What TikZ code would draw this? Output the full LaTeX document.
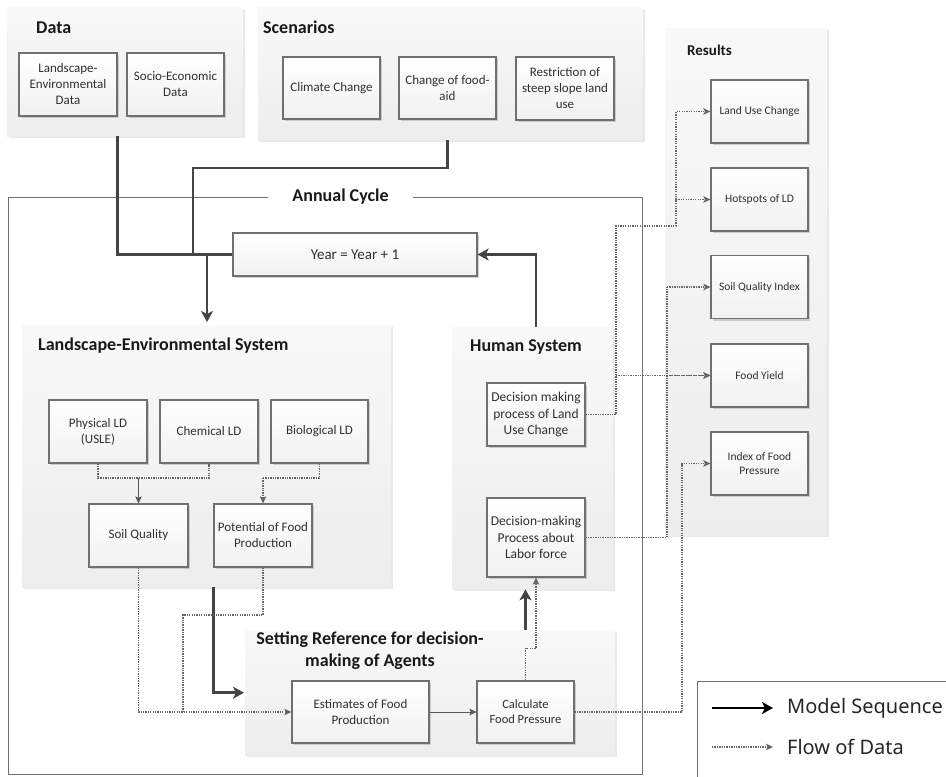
\documentclass[tikz,border=0pt]{standalone}
\usepackage{fontspec}
\setmainfont{Carlito}
\newfontfamily\legendfont{Noto Sans}
\usetikzlibrary{arrows.meta}
\usetikzlibrary{shadows}
\usetikzlibrary{positioning}
\definecolor{Rahmen}{HTML}{707070}
\definecolor{Linie}{HTML}{444444}
\definecolor{Punkt}{HTML}{666666}
\definecolor{Schrift}{HTML}{303030}
\tikzset{
  Kasten/.style args={#1x#2}{draw=Rahmen, line width=1.2pt, top color=white, bottom color=gray!11,
    minimum width=#1pt, minimum height=#2pt, inner sep=1pt, align=center, text=Schrift,
    drop shadow={shadow xshift=2pt, shadow yshift=-2pt, fill=gray!70}}, % Kaesten
  Feld/.style args={#1x#2}{anchor=north west, inner sep=0pt, top color=gray!5, bottom color=gray!14,
    minimum width=#1pt, minimum height=#2pt,
    drop shadow={shadow xshift=1.5pt, shadow yshift=-2pt, fill=gray!35}}, % Felder
  Titel/.style={font=\fontsize{18}{22}\selectfont\bfseries, inner sep=0pt, text=black!90},
  MLinie/.style={draw=Linie, line width=2.8pt}, % Modellablauf
  MPfeil/.style={MLinie, -{Stealth[length=11pt, width=12pt, inset=3pt]}},
  DLinie/.style={draw=Punkt, line width=1.4pt, dash pattern=on 1.3pt off 1.1pt}, % Datenfluss
  DPfeil/.style={DLinie, -{Stealth[length=7pt, width=6.5pt, inset=1.5pt]}},
  SPfeil/.style={draw=Linie!90, line width=1pt, -{Stealth[length=7pt, width=6.5pt, inset=1.5pt]}}
}

\begin{document}
\begin{tikzpicture}[x=1pt, y=-1pt,
font=\fontsize{13}{16}\selectfont
]
\useasboundingbox (0,0) rectangle (946,777);

%Jahreszyklus
\node[draw=Rahmen, line width=1.3pt, anchor=north west, minimum width=634pt, minimum height=577pt, inner sep=0pt] (cycle) at (8,197) {};
\node[Titel, fill=white, minimum width=145pt, minimum height=15pt] (tcycle) at (340.5,197) {Annual Cycle};

%Felder
\node[Feld=236x129] (data) at (7,7) {};
\node[Feld=385x133] (scen) at (258,7) {};
\node[Feld=162x507] (res) at (665,28) {};
\node[Feld=369x262] (lsys) at (22,325) {};
\node[Feld=161x262] (hsys) at (452,327) {};
\node[Feld=370x125] (sref) at (245,630) {};

\node[Titel, anchor=base west] (tdata) at (36,33) {Data};
\node[Titel, anchor=base west] (tscen) at (263,33) {Scenarios};
\node[Titel, anchor=base west, font=\fontsize{15}{18}\selectfont\bfseries] (tres) at (687,55) {Results};
\node[Titel, anchor=base west] (tlsys) at (38,350) {Landscape-Environmental System};
\node[Titel, anchor=base] (thsys) at (526,351) {Human System};
\node[Titel, align=center] (tsref) at (370,651) {Setting Reference for decision-\\making of Agents};

%Kaesten
\node[Kasten=98x63] (ledata) at (68,84.5) {Landscape-\\Environmental\\Data};
\node[Kasten=97x63] (sedata) at (175.5,84.5) {Socio-Economic\\Data};
\node[Kasten=97x62] (clim) at (331.5,88) {Climate Change};
\node[Kasten=97x62] (faid) at (447.5,88) {Change of food-\\aid};
\node[Kasten=98x63] (slope) at (565,88.5) {Restriction of\\steep slope land\\use};

\foreach \n/\y/\t in {luc/111.5/{Land Use Change}, hot/199.5/{Hotspots of LD}, sqi/287/{Soil Quality Index},
  fy/375.5/{Food Yield}, ifp/463.5/{Index of Food\\Pressure}}
  \node[Kasten=97x63, font=\fontsize{11.5}{14}\selectfont] (\n) at (759.5,\y) {\t};

\node[Kasten=244x43, font=\fontsize{15}{18}\selectfont] (year) at (355,254.5) {Year = Year + 1};

\node[Kasten=98x63] (phys) at (98,431.5) {Physical LD\\(USLE)};
\node[Kasten=98x63] (chem) at (209,431.5) {Chemical LD};
\node[Kasten=97x63] (bio) at (319.5,431.5) {Biological LD};
\node[Kasten=99x63] (soilq) at (138.5,535.5) {Soil Quality};
\node[Kasten=98x63] (pot) at (263,535.5) {Potential of Food\\Production};

\node[Kasten=98x63, font=\fontsize{13.5}{16.5}\selectfont] (lucd) at (536,414.5) {Decision making\\process of Land\\Use Change};
\node[Kasten=98x79, font=\fontsize{13.5}{16.5}\selectfont] (labor) at (536,537.5) {Decision-making\\Process about\\Labor force};

\node[Kasten=137x62] (est) at (360.5,712) {Estimates of Food\\Production};
\node[Kasten=97x62, font=\fontsize{12.5}{15}\selectfont] (calc) at (525.5,712) {Calculate\\Food Pressure};

%Knicke
\coordinate (split) at (207,254.5);
\coordinate (jS) at (193,168);
\coordinate (jA) at (138.5,478);
\coordinate (jB) at (263,478);
\coordinate (jC) at (183,615);
\coordinate (jD) at (616,226);
\coordinate (jE) at (676,226);
\coordinate (jF) at (667,287);
\coordinate (jG) at (682,463.5);

%Modellablauf
\draw[MLinie] (ledata.east |- data.south) |- (year.west);
\draw[MLinie] (faid.south |- scen.south) |- (jS) |- (year.west);
\draw[MPfeil, shorten >=3pt] (split) -- (split |- lsys.north);
\draw[MPfeil] (lucd.north |- hsys.north) |- (year.east);
\draw[MPfeil, shorten >=1pt] (pot.west |- lsys.south) |- (sref.west);
\draw[MPfeil] (calc.north |- sref.north) -- (calc.north |- hsys.south);
\draw[SPfeil] (est) -- (calc);

%Datenfluss
\draw[DLinie] (phys.south) |- (jA) -| (chem.south);
\draw[SPfeil] (jA) -- (soilq.north);
\draw[DLinie] (bio.south) |- (jB);
\draw[DPfeil] (jB) -- (pot.north);
\draw[DPfeil] (soilq.south) |- (est.west);
\draw[DLinie] (pot.south) |- (jC) -- (jC |- est.west);
\draw[DPfeil] (calc.north) -- ++(0,-32) -| (labor.south);

\draw[DLinie] (lucd.east) -| (jD) -- (jE);
\draw[DPfeil] (jE) |- (luc.west);
\draw[DPfeil] (jE) |- (hot.west);
\draw[DPfeil] (jD |- fy.west) -- (fy.west);
\draw[DLinie] (labor.east) -| (jF);
\draw[DPfeil] (jF) -- (sqi.west);
\draw[DPfeil] (jF |- fy.west) -- (fy.west);
\draw[DPfeil] (calc.east) -| (jG) -- (ifp.west);

%Legende
\node[draw=Rahmen, line width=1pt, anchor=north west, minimum width=262pt, minimum height=100pt, inner sep=0pt] (legende) at (697,681) {};
\node[anchor=west, inner sep=0pt, font=\legendfont\fontsize{20}{23}\selectfont, text=black!85] (lgA) at (787,708) {Model Sequence};
\node[anchor=west, inner sep=0pt, font=\legendfont\fontsize{20}{23}\selectfont, text=black!85] (lgB) at (787,747) {Flow of Data};
\coordinate (lgAs) at (712,708);
\coordinate (lgBs) at (712,747);
\draw[MPfeil, draw=black] (lgAs) -- ([xshift=-14pt]lgA.west);
\draw[DPfeil] (lgBs) -- ([xshift=-14pt]lgB.west);

\end{tikzpicture}
\end{document}
